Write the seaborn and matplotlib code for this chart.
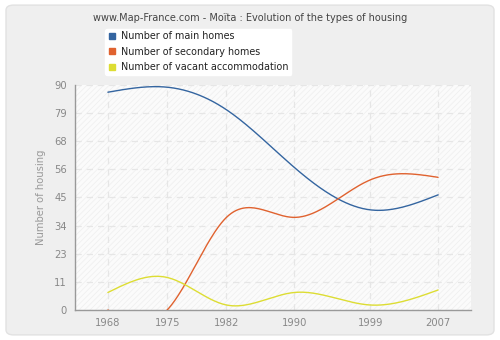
import numpy as np
import pandas as pd
import matplotlib
matplotlib.use("Agg")
import matplotlib.pyplot as plt
import seaborn as sns
from matplotlib.patches import FancyBboxPatch
from matplotlib.lines import Line2D

years = [1968, 1975, 1982, 1990, 1999, 2007]
main_homes = [87, 89, 80, 57, 40, 46]
secondary_homes = [0, 0, 37, 37, 52, 53]
vacant = [7, 13, 2, 7, 2, 8]
series_names = ["Number of main homes", "Number of secondary homes",
                "Number of vacant accommodation"]
colors = ["#3465a0", "#e0622f", "#dddd33"]
ytick_vals = [0, 11.25, 22.5, 33.75, 45, 56.25, 67.5, 78.75, 90]
ytick_labels = ["0", "11", "23", "34", "45", "56", "68", "79", "90"]


def natural_spline(x, y, n=400):
    x = np.asarray(x, float); y = np.asarray(y, float)
    k = len(x)
    h = np.diff(x)
    A = np.zeros((k, k)); b = np.zeros(k)
    A[0, 0] = 1; A[-1, -1] = 1
    for i in range(1, k - 1):
        A[i, i - 1] = h[i - 1]
        A[i, i] = 2 * (h[i - 1] + h[i])
        A[i, i + 1] = h[i]
        b[i] = 3 * ((y[i + 1] - y[i]) / h[i] - (y[i] - y[i - 1]) / h[i - 1])
    c = np.linalg.solve(A, b)
    xs = np.linspace(x[0], x[-1], n)
    ys = np.empty_like(xs)
    for j, xv in enumerate(xs):
        i = min(np.searchsorted(x, xv, side="right") - 1, k - 2)
        dx = xv - x[i]
        bi = (y[i + 1] - y[i]) / h[i] - h[i] * (2 * c[i] + c[i + 1]) / 3
        di = (c[i + 1] - c[i]) / (3 * h[i])
        ys[j] = y[i] + bi * dx + c[i] * dx ** 2 + di * dx ** 3
    return xs, ys


frames = []
for name, vals in zip(series_names, [main_homes, secondary_homes, vacant]):
    xs, ys = natural_spline(years, vals)
    frames.append(pd.DataFrame({"year": xs, "value": ys, "series": name}))
df = pd.concat(frames, ignore_index=True)

sns.set_style("white")
plt.rcParams["font.family"] = ["DejaVu Sans"]
plt.rcParams["hatch.linewidth"] = 0.6

fig = plt.figure(figsize=(5, 3.4), dpi=100)
fig.patch.set_facecolor("white")
bg = FancyBboxPatch((0.012, 0.015), 0.976, 0.97,
                    boxstyle="round,pad=0,rounding_size=0.015",
                    transform=fig.transFigure, facecolor="#efefef",
                    edgecolor="#e2e2e2", linewidth=1.0, zorder=-10)
fig.patches.append(bg)

ax = fig.add_axes([0.1506, 0.0882, 0.7908, 0.6627])
ax.set_zorder(1)
ax.set_facecolor("#fbfbfb")
ax.add_patch(plt.Rectangle((0, 0), 1, 1, transform=ax.transAxes, facecolor="none",
                           edgecolor="#f0f0f0", hatch="//////", linewidth=0, zorder=0))

sns.lineplot(data=df, x="year", y="value", hue="series", palette=colors,
             hue_order=series_names, ax=ax, linewidth=1.0, legend=False,
             sort=False, estimator=None, zorder=3)

ax.set_xlim(1964.15, 2010.85)
ax.set_ylim(0, 90)
ax.set_xticks(years)
ax.set_xticklabels([str(y) for y in years])
ax.set_yticks(ytick_vals)
ax.set_yticklabels(ytick_labels)
ax.grid(True, color="#e6e6e6", linestyle=(0, (5, 4)), linewidth=0.9)
ax.set_axisbelow(True)
for s in ["top", "right"]:
    ax.spines[s].set_visible(False)
for s in ["left", "bottom"]:
    ax.spines[s].set_color("#999999")
    ax.spines[s].set_linewidth(1.0)
ax.tick_params(axis="both", colors="#999999", labelcolor="#888888",
               labelsize=7.2, length=4, width=1, direction="out", pad=2)
ax.set_xlabel("")
ax.set_ylabel("Number of housing", color="#999999", fontsize=7.2, labelpad=6)

fig.text(0.5, 0.948, "www.Map-France.com - Moïta : Evolution of the types of housing",
         ha="center", va="center", fontsize=7.0, color="#444444")

handles = [Line2D([0], [0], marker="s", linestyle="none", markersize=4.2,
                  markerfacecolor=c, markeredgecolor=c) for c in colors]
leg = fig.legend(handles, series_names, loc="upper left",
                 bbox_to_anchor=(0.2, 0.93), frameon=True, fontsize=6.9,
                 handlelength=0.8, handletextpad=0.6, labelspacing=0.55,
                 borderpad=0.3, fancybox=True)
leg.get_frame().set_facecolor("white")
leg.get_frame().set_edgecolor("white")
leg.get_frame().set_alpha(1)
for t in leg.get_texts():
    t.set_color("#222222")

fig.savefig("out.png", dpi=100, facecolor=fig.get_facecolor())
